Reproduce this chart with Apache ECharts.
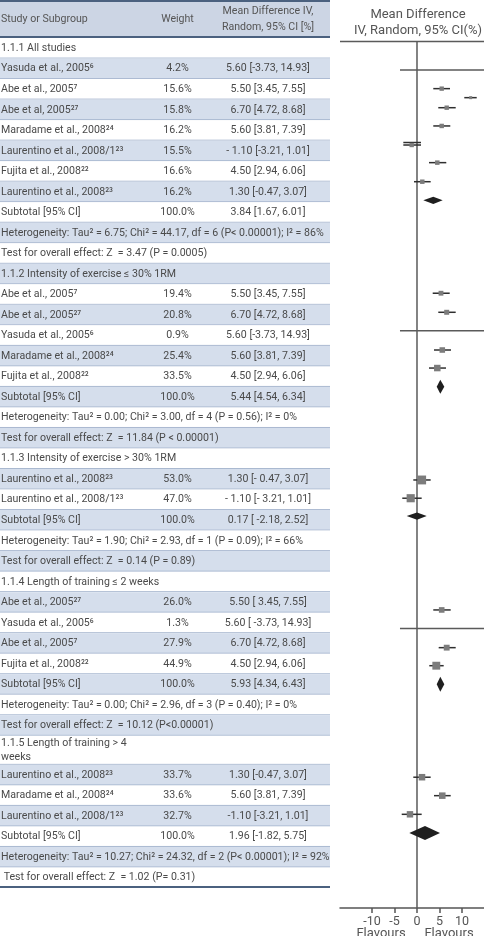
<!DOCTYPE html>
<html lang="en">
<head>
<meta charset="UTF-8">
<title>Forest plot</title>
<script src="https://cdn.jsdelivr.net/npm/echarts@6.0.0/dist/echarts.min.js"></script>
<style>
  html, body { margin: 0; padding: 0; background: #fff; }
  #chart { width: 484px; height: 936px; }
</style>
</head>
<body>
<div id="chart"></div>
<script>
// ---- table data ----
var headerLabels = ['Study or Subgroup', 'Weight', 'Mean Difference IV,\nRandom, 95% CI [%]'];
var groupTitles = [
    '1.1.1 All studies',
    '1.1.2 Intensity of exercise ≤ 30% 1RM',
    '1.1.3 Intensity of exercise > 30% 1RM',
    '1.1.4 Length of training ≤ 2 weeks',
    '1.1.5 Length of training > 4\nweeks'
];
var studies = [
    ['Yasuda et al., 2005⁶', 'Abe et al., 2005⁷', 'Abe et al, 2005²⁷', 'Maradame et al., 2008²⁴', 'Laurentino et al., 2008/1²³', 'Fujita et al., 2008²²', 'Laurentino et al., 2008²³'],
    ['Abe et al., 2005⁷', 'Abe et al., 2005²⁷', 'Yasuda et al., 2005⁶', 'Maradame et al., 2008²⁴', 'Fujita et al., 2008²²'],
    ['Laurentino et al., 2008²³', 'Laurentino et al., 2008/1²³'],
    ['Abe et al., 2005²⁷', 'Yasuda et al., 2005⁶', 'Abe et al., 2005⁷', 'Fujita et al., 2008²²'],
    ['Laurentino et al., 2008²³', 'Maradame et al., 2008²⁴', 'Laurentino et al., 2008/1²³']
];
var weights = [
    ['4.2%', '15.6%', '15.8%', '16.2%', '15.5%', '16.6%', '16.2%'],
    ['19.4%', '20.8%', '0.9%', '25.4%', '33.5%'],
    ['53.0%', '47.0%'],
    ['26.0%', '1.3%', '27.9%', '44.9%'],
    ['33.7%', '33.6%', '32.7%']
];
var ciLabels = [
    ['5.60 [-3.73, 14.93]', '5.50 [3.45, 7.55]', '6.70 [4.72, 8.68]', '5.60 [3.81, 7.39]', '- 1.10 [-3.21, 1.01]', '4.50 [2.94, 6.06]', '1.30 [-0.47, 3.07]'],
    ['5.50 [3.45, 7.55]', '6.70 [4.72, 8.68]', '5.60 [-3.73, 14.93]', '5.60 [3.81, 7.39]', '4.50 [2.94, 6.06]'],
    ['1.30 [- 0.47, 3.07]', '- 1.10 [- 3.21, 1.01]'],
    ['5.50 [ 3.45, 7.55]', '5.60 [ -3.73, 14.93]', '6.70 [4.72, 8.68]', '4.50 [2.94, 6.06]'],
    ['1.30 [-0.47, 3.07]', '5.60 [3.81, 7.39]', '-1.10 [-3.21, 1.01]']
];
var subtotalCI = ['3.84 [1.67, 6.01]', '5.44 [4.54, 6.34]', '0.17 [ -2.18, 2.52]', '5.93 [4.34, 6.43]', '1.96 [-1.82, 5.75]'];
var heterogeneity = [
    'Heterogeneity: Tau² = 6.75; Chi² = 44.17, df = 6 (P< 0.00001); I² = 86%',
    'Heterogeneity: Tau² = 0.00; Chi² = 3.00, df = 4 (P = 0.56); I² = 0%',
    'Heterogeneity: Tau² = 1.90; Chi² = 2.93, df = 1 (P = 0.09); I² = 66%',
    'Heterogeneity: Tau² = 0.00; Chi² = 2.96, df = 3 (P = 0.40); I² = 0%',
    'Heterogeneity: Tau² = 10.27; Chi² = 24.32, df = 2 (P< 0.00001); I² = 92%'
];
var overallTests = [
    'Test for overall effect: Z  = 3.47 (P = 0.0005)',
    'Test for overall effect: Z  = 11.84 (P < 0.00001)',
    'Test for overall effect: Z  = 0.14 (P = 0.89)',
    'Test for overall effect: Z  = 10.12 (P<0.00001)',
    ' Test for overall effect: Z  = 1.02 (P= 0.31)'
];

// ---- plot data (as drawn in the figure) ----
// row = fractional table row the mark sits on
var plotRow    = [1.97, 2.41, 2.90, 3.79, 4.72, 5.58, 6.51, 11.95, 12.88, 14.72, 15.60, 21.06, 21.95, 27.40, 29.24, 30.12, 35.56, 36.46, 37.37];
var plotMD     = [5.49, 11.93, 6.6, 5.49, -1.18, 4.51, 1.18, 5.33, 6.6, 5.62, 4.51, 1.04, -1.4, 5.49, 6.6, 4.29, 1.11, 5.62, -1.56];
var plotLo     = [3.62, 10.51, 4.73, 3.62, -3.04, 2.67, -0.67, 3.49, 4.73, 3.78, 2.67, -0.82, -3.27, 3.62, 4.82, 2.73, -0.82, 3.78, -3.4];
var plotHi     = [7.33, 13.27, 8.6, 7.4, 0.89, 6.51, 3.04, 7.27, 8.6, 7.56, 6.44, 3.04, 1.04, 7.49, 8.6, 5.93, 3.04, 7.49, 1.04];
var plotWeight = [15.6, 4.2, 15.8, 16.2, 15.5, 16.6, 16.2, 19.4, 20.8, 25.4, 33.5, 53.0, 47.0, 26.0, 27.9, 44.9, 33.7, 33.6, 32.7];

var diamondRow = [7.42, 16.51, 22.82, 31.03, 38.28];
var diamondMD  = [3.62, 5.18, 0, 5.18, 1.78];
var diamondLo  = [1.4, 4.38, -2.29, 4.38, -1.71];
var diamondHi  = [5.71, 6.07, 2.16, 6.07, 5.11];

var separatorRows = [1.06, 13.78, 28.30];
var tickLabels = [-10, -5, 0, 5, 10];
var plotTitle = 'Mean Difference\nIV, Random, 95% CI(%)';
var footLabels = ['Flavours', 'Flavours'];

// ---- build table rows ----
var rows = [{kind: 'header', cols: headerLabels}];
groupTitles.forEach(function (t, g) {
    rows.push({kind: 'title', cols: [t, '', '']});
    studies[g].forEach(function (s, i) {
        rows.push({kind: 'study', cols: [s, weights[g][i], ciLabels[g][i]]});
    });
    rows.push({kind: 'sub', cols: ['Subtotal [95% CI]', '100.0%', subtotalCI[g]]});
    rows.push({kind: 'wide', cols: [heterogeneity[g], '', '']});
    rows.push({kind: 'wide', cols: [overallTests[g], '', '']});
});
var heights = rows.map(function (r) {
    if (r.kind === 'header') return 1.854;
    return r.cols[0].indexOf('\n') >= 0 ? 1.415 : 1;
});
var starts = [];
var acc = 0;
heights.forEach(function (h) { starts.push(acc); acc += h; });
var tableTotal = acc;

var FONT = 'Roboto';
var TXT = '#4a4a4a';
var DARK_RULE = '#4b617f';

function renderRow(params, api) {
    var i = api.value(0);
    var r = rows[i];
    var p0 = api.coord([0, starts[i]]);
    var p1 = api.coord([330, starts[i] + heights[i]]);
    var yc = (p0[1] + p1[1]) / 2;
    var fill = r.kind === 'header' ? '#ccd5e4' : ((i - 1) % 2 === 0 ? '#ffffff' : '#d5deec');
    var kids = [{
        type: 'rect',
        shape: {x: p0[0], y: p0[1], width: p1[0] - p0[0], height: p1[1] - p0[1]},
        style: {fill: fill}
    }];
    var last = i === rows.length - 1;
    var dark = r.kind === 'header' || last;
    kids.push({
        type: 'line',
        shape: {x1: p0[0], y1: p1[1] - (dark ? 1 : 0.5), x2: p1[0], y2: p1[1] - (dark ? 1 : 0.5)},
        style: {stroke: dark ? DARK_RULE : '#a9b8d0', lineWidth: dark ? 2 : 1}
    });
    if (i === 0) {
        kids.push({
            type: 'line',
            shape: {x1: p0[0], y1: p0[1] + 1, x2: p1[0], y2: p0[1] + 1},
            style: {stroke: DARK_RULE, lineWidth: 2}
        });
    }
    var colX = [1, 177.5, 268];
    var aligns = ['left', 'center', 'center'];
    r.cols.forEach(function (c, k) {
        if (!c) return;
        kids.push({
            type: 'text',
            style: {
                text: c,
                x: api.coord([colX[k], 0])[0],
                y: yc,
                fill: r.kind === 'header' ? '#555' : TXT,
                fontSize: 10.6,
                fontFamily: FONT,
                align: aligns[k],
                verticalAlign: 'middle',
                lineHeight: r.kind === 'header' ? 16 : 13.5
            }
        });
    });
    return {type: 'group', children: kids};
}

var X_MIN = -17.11, X_MAX = 14.89;
var Y_MIN = -2.354, Y_MAX = 41.94;
var TOP_ROW = -0.33;
var LINE = '#2f2f2f';

function renderStudy(params, api) {
    var i = params.dataIndex;
    var c = api.coord([plotMD[i], plotRow[i]]);
    var a = api.coord([plotLo[i], plotRow[i]]);
    var b = api.coord([plotHi[i], plotRow[i]]);
    var s = 2.5 + 0.12 * plotWeight[i];
    var kids = [{
        type: 'line',
        shape: {x1: a[0], y1: c[1], x2: b[0], y2: c[1]},
        style: {stroke: LINE, lineWidth: 1.5}
    }];
    if (i === 4) {
        // this CI is drawn doubled in the figure
        kids.push({
            type: 'line',
            shape: {x1: a[0], y1: c[1] - 2.5, x2: b[0], y2: c[1] - 2.5},
            style: {stroke: LINE, lineWidth: 1.5}
        });
    }
    kids.push({
        type: 'rect',
        shape: {x: c[0] - s / 2, y: c[1] - s / 2, width: s, height: s},
        style: {fill: '#7c7c7c'}
    });
    return {type: 'group', children: kids};
}

var diamondHalf = [3.6, 7, 3.6, 7.5, 7];
function renderDiamond(params, api) {
    var i = params.dataIndex;
    var c = api.coord([diamondMD[i], diamondRow[i]]);
    var a = api.coord([diamondLo[i], diamondRow[i]]);
    var b = api.coord([diamondHi[i], diamondRow[i]]);
    var h = diamondHalf[i];
    return {
        type: 'polygon',
        shape: {points: [[a[0], c[1]], [c[0], c[1] - h], [b[0], c[1]], [c[0], c[1] + h]]},
        style: {fill: '#1f1f1f'}
    };
}

// frame lines of the plot panel
var frameLines = [
    [[X_MIN, TOP_ROW], [X_MAX, TOP_ROW]],
    [[0, TOP_ROW], [0, Y_MAX]]
];
separatorRows.forEach(function (r) { frameLines.push([[-3.78, r], [X_MAX, r]]); });

function renderFrame(params, api) {
    var seg = frameLines[params.dataIndex];
    var p = api.coord(seg[0]);
    var q = api.coord(seg[1]);
    return {
        type: 'line',
        shape: {x1: p[0], y1: p[1], x2: q[0], y2: q[1]},
        style: {stroke: '#5a5a5a', lineWidth: 1.5}
    };
}

var chart = echarts.init(document.getElementById('chart'), null, {renderer: 'canvas'});
chart.setOption({
    animation: false,
    grid: [
        {left: 0, top: 0, width: 330, height: 888},
        {left: 340, right: 0, top: 0, height: 908}
    ],
    xAxis: [
        {gridIndex: 0, type: 'value', min: 0, max: 330, show: false},
        {
            gridIndex: 1, type: 'value', min: X_MIN, max: X_MAX,
            splitLine: {show: false},
            axisLine: {onZero: false, lineStyle: {color: '#555', width: 1.5}},
            axisTick: {show: true, customValues: tickLabels, length: 5, lineStyle: {color: '#555', width: 1.5}},
            axisLabel: {customValues: tickLabels, color: '#555', fontSize: 12.5, fontFamily: FONT, margin: 7}
        }
    ],
    yAxis: [
        {gridIndex: 0, type: 'value', min: 0, max: tableTotal, inverse: true, show: false},
        {gridIndex: 1, type: 'value', min: Y_MIN, max: Y_MAX, inverse: true, show: false}
    ],
    graphic: [{
        type: 'text',
        x: 418,
        y: 7,
        style: {text: plotTitle, fill: '#555', fontSize: 13, fontFamily: FONT, align: 'center', lineHeight: 16}
    }].concat(footLabels.map(function (t, k) {
        return {
            type: 'text',
            x: k === 0 ? 381 : 449,
            y: 927,
            style: {text: t, fill: '#555', fontSize: 13, fontFamily: FONT, align: 'center'}
        };
    })),
    series: [
        {
            type: 'custom', xAxisIndex: 0, yAxisIndex: 0, silent: true,
            data: rows.map(function (r, i) { return [i, starts[i]]; }),
            renderItem: renderRow
        },
        {
            type: 'custom', xAxisIndex: 1, yAxisIndex: 1, silent: true,
            data: frameLines.map(function (s) { return [s[0][0], s[0][1]]; }),
            renderItem: renderFrame
        },
        {
            type: 'custom', xAxisIndex: 1, yAxisIndex: 1, silent: true,
            data: plotMD.map(function (v, i) { return [v, plotRow[i], plotLo[i], plotHi[i]]; }),
            renderItem: renderStudy
        },
        {
            type: 'custom', xAxisIndex: 1, yAxisIndex: 1, silent: true,
            data: diamondMD.map(function (v, i) { return [v, diamondRow[i], diamondLo[i], diamondHi[i]]; }),
            renderItem: renderDiamond
        }
    ]
});
</script>
</body>
</html>
